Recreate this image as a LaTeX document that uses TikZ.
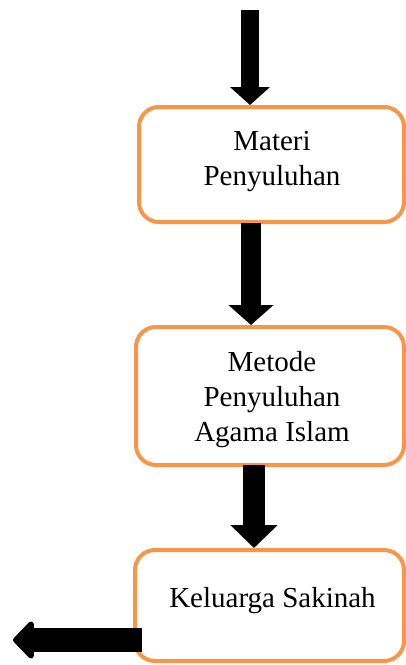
\documentclass[tikz,border=0pt]{standalone}
\usepackage{fontspec}
\setmainfont{Liberation Serif}
\newfontfamily\boxfont{Liberation Serif}
\usetikzlibrary{arrows.meta}
\definecolor{boxorange}{HTML}{F79646}
\begin{document}
\begin{tikzpicture}[x=1pt,y=-1pt,
  flowbox/.style={draw=boxorange,line width=4pt,rounded corners=20pt,fill=white,inner sep=0pt},
  boxtext/.style={font=\boxfont\fontsize{29}{35}\selectfont,align=center,inner sep=0pt},
  blockarrow/.style n args={3}{draw=black,line width=#1,-{Triangle[width=#2,length=#3]}}
]
\useasboundingbox (0,0) rectangle (406,665);
% boxes
\node[flowbox,minimum width=265pt,minimum height=115pt] (box1) at (271.5,164.5) {};
\node[flowbox,minimum width=268pt,minimum height=138pt] (box2) at (270,396) {};
\node[flowbox,minimum width=269pt,minimum height=111pt] (box3) at (269.5,605.5) {};
% texts
\node[boxtext] (t1) at (272,161.5) {Materi\\Penyuluhan};
\node[boxtext] (t2) at (272,400) {Metode\\Penyuluhan\\Agama Islam};
\node[boxtext] (t3) at (272.5,600.5) {Keluarga Sakinah};
% arrows
\coordinate (a0) at (250,10);
\coordinate (a1) at (251,223);
\coordinate (a2) at (254,465);
\coordinate (s4) at (142,640);
\coordinate (e4) at (13,640);
\draw[blockarrow={18pt}{39pt}{18pt}] (a0) -- (box1.north -| a0);
\draw[blockarrow={20pt}{44pt}{20pt}] (a1) -- (box2.north -| a1);
\draw[blockarrow={22pt}{46pt}{23pt}] (a2) -- (box3.north -| a2);
\draw[draw=black,line width=24pt,-{Triangle[width=44pt,length=22pt,round]}] (s4) -- (e4);
\end{tikzpicture}
\end{document}
